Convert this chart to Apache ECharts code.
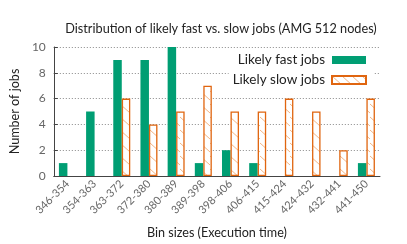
<!DOCTYPE html>
<html><head><meta charset="utf-8">
<script src="https://cdn.jsdelivr.net/npm/echarts@6/dist/echarts.min.js"></script>
<style>html,body{margin:0;padding:0;background:#fff}#c{width:407px;height:244px}</style>
</head><body><div id="c"></div>
<script>
const categories = ['346-354','354-363','363-372','372-380','380-389','389-398','398-406','406-415','415-424','424-432','432-441','441-450'];
const fastJobs = [1,5,9,9,10,1,2,1,0,0,0,1];
const slowJobs = [0,0,6,4,5,7,5,5,6,5,2,6];
const yTicks = [0,2,4,6,8,10];

const FONT = 'Lato';
const GREEN = '#009e73';
const ORANGE = '#e0650f';

function hatch() {
  const c = document.createElement('canvas');
  c.width = 10; c.height = 13;
  const g = c.getContext('2d');
  g.fillStyle = '#fff'; g.fillRect(0,0,10,13);
  g.strokeStyle = '#f3b585'; g.lineWidth = 1;
  g.beginPath();
  g.moveTo(0,0); g.lineTo(10,9);
  g.moveTo(0,13); g.lineTo(10,22);
  g.moveTo(0,-13); g.lineTo(10,-4);
  g.stroke();
  return c;
}
const noZero = arr => arr.map(v => v === 0 ? {value: 0, itemStyle: {borderWidth: 0, opacity: 0}} : v);

const chart = echarts.init(document.getElementById('c'), null, {renderer:'canvas'});
chart.setOption({
  animation: false,
  title: {
    text: 'Distribution of likely fast vs. slow jobs (AMG 512 nodes)',
    left: 216, top: 17, textAlign: 'center',
    textStyle: {fontFamily: FONT, fontSize: 12.7, fontWeight: 'normal', color: '#222'}
  },
  legend: {
    orient: 'vertical', right: 34, top: 51, align: 'right', icon: 'rect',
    itemWidth: 34, itemHeight: 8, itemGap: 6,
    backgroundColor: '#fff', padding: [2,6,2,4],
    textStyle: {fontFamily: FONT, fontSize: 13.5, color: '#222', width: 112, align: 'right', padding: [0,2,0,0]},
    data: ['Likely fast jobs','Likely slow jobs']
  },
  grid: {left: 53, right: 27, top: 47, bottom: 68},
  xAxis: {
    type: 'category', data: categories,
    name: 'Bin sizes (Execution time)', nameLocation: 'middle', nameGap: 50,
    nameTextStyle: {fontFamily: FONT, fontSize: 12.6, color: '#222'},
    axisLine: {lineStyle: {color: '#444', width: 1}},
    axisTick: {show: false},
    axisLabel: {rotate: 45, fontFamily: FONT, fontSize: 11, color: '#666', margin: 6, interval: 0}
  },
  yAxis: {
    type: 'value', min: 0, max: 10, interval: 2,
    name: 'Number of jobs', nameLocation: 'middle', nameGap: 31,
    nameTextStyle: {fontFamily: FONT, fontSize: 12.6, color: '#222'},
    axisLine: {show: true, lineStyle: {color: '#444', width: 1}},
    axisTick: {show: true, inside: true, length: 4, lineStyle: {color: '#444'}},
    axisLabel: {fontFamily: FONT, fontSize: 12, color: '#666', margin: 8,
      formatter: v => yTicks.includes(v) ? String(v) : ''},
    splitLine: {show: true, lineStyle: {color: '#888', type: [1,2], width: 1}}
  },
  series: [
    {name: 'Likely fast jobs', type: 'bar', data: noZero(fastJobs), barWidth: 8.5, barGap: '0%',
     itemStyle: {color: GREEN}},
    {name: 'Likely slow jobs', type: 'bar', data: noZero(slowJobs), barWidth: 8.5, barGap: '0%',
     itemStyle: {color: {image: hatch(), repeat: 'repeat'}, borderColor: ORANGE, borderWidth: 1.3}}
  ]
});
</script></body></html>
